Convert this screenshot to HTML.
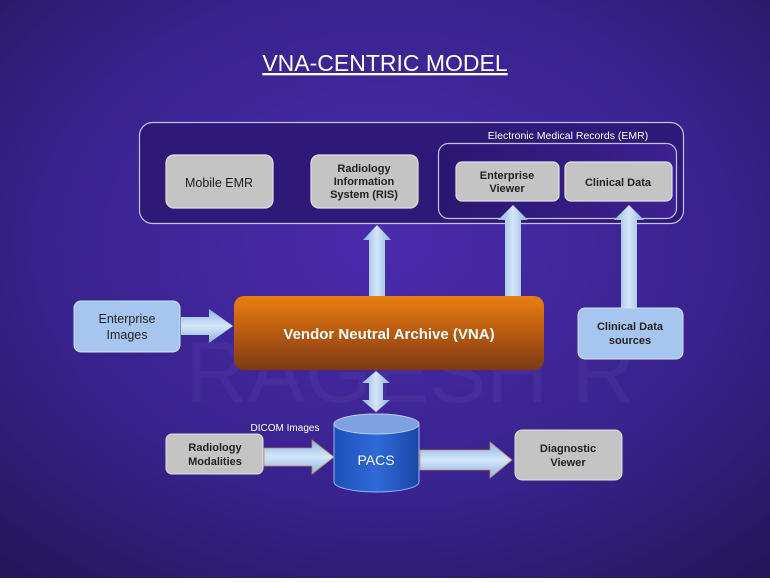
<!DOCTYPE html>
<html><head><meta charset="utf-8"><style>
html,body{margin:0;padding:0;}
body{width:770px;height:578px;overflow:hidden;}
text{font-family:"Liberation Sans",sans-serif;}
</style></head><body>
<svg width="770" height="578" viewBox="0 0 770 578" xmlns="http://www.w3.org/2000/svg">
<defs>
<radialGradient id="bg" cx="0.5" cy="0.42" r="0.75">
<stop offset="0" stop-color="#4a2cac"/>
<stop offset="0.6" stop-color="#38228c"/>
<stop offset="1" stop-color="#24165a"/>
</radialGradient>
<linearGradient id="org" x1="0" y1="0" x2="0" y2="1">
<stop offset="0" stop-color="#e8800f"/>
<stop offset="0.5" stop-color="#b85a12"/>
<stop offset="1" stop-color="#7a3a14"/>
</linearGradient>
<linearGradient id="av" x1="0" y1="0" x2="1" y2="0">
<stop offset="0" stop-color="#8cb4e4"/><stop offset="0.5" stop-color="#d4e6f8"/><stop offset="1" stop-color="#8cb4e4"/>
</linearGradient>
<linearGradient id="ah" x1="0" y1="0" x2="0" y2="1">
<stop offset="0" stop-color="#8cb4e4"/><stop offset="0.5" stop-color="#d4e6f8"/><stop offset="1" stop-color="#8cb4e4"/>
</linearGradient>
<linearGradient id="cyl" x1="0" y1="0" x2="1" y2="0">
<stop offset="0" stop-color="#1d4fb8"/><stop offset="0.5" stop-color="#2f6ad8"/><stop offset="1" stop-color="#1a46a8"/>
</linearGradient>
<linearGradient id="inner" x1="0" y1="0" x2="1" y2="0">
<stop offset="0" stop-color="#2a1670"/><stop offset="1" stop-color="#3c2190"/>
</linearGradient>
</defs>
<rect width="770" height="578" fill="url(#bg)"/>
<text x="410" y="402" font-size="86" fill="#ffffff" fill-opacity="0.04" text-anchor="middle">RAGESH R</text>
<text x="385" y="71" font-size="23" fill="#fff" text-anchor="middle" text-decoration="underline">VNA-CENTRIC MODEL</text>
<!-- outer box -->
<rect x="139.5" y="122.5" width="544" height="101" rx="13" fill="#2e1878" stroke="#c8c0f0" stroke-width="1.2"/>
<text x="568" y="139" font-size="10.5" fill="#fff" text-anchor="middle">Electronic Medical Records (EMR)</text>
<rect x="438.5" y="143.5" width="238" height="75" rx="10" fill="url(#inner)" stroke="#c8c0f0" stroke-width="1.2"/>
<g stroke="#e0e0e0" stroke-width="1.2" fill="#c4c4c4">
<rect x="166" y="155" width="107" height="53" rx="8"/>
<rect x="311" y="155" width="107" height="53" rx="8"/>
<rect x="456" y="162" width="103" height="39" rx="6"/>
<rect x="565" y="162" width="107" height="39" rx="6"/>
</g>
<g fill="#222" text-anchor="middle" font-size="11" font-weight="bold">
<text x="219" y="187" font-size="12.5" font-weight="normal">Mobile EMR</text>
<text x="364" y="172">Radiology</text><text x="364" y="185">Information</text><text x="364" y="198">System (RIS)</text>
<text x="507" y="179">Enterprise</text><text x="507" y="192">Viewer</text>
<text x="618" y="186">Clinical Data</text>
</g>
<!-- up arrows -->
<polygon points="369,296 369,240 363,240 377,225 391,240 385,240 385,296" fill="url(#av)"/>
<polygon points="505,296 505,220 498,220 513,205 528,220 521,220 521,296" fill="url(#av)"/>
<polygon points="621,308 621,220 614,220 629,205 644,220 637,220 637,308" fill="url(#av)"/>
<!-- VNA -->
<rect x="234" y="296" width="310" height="74" rx="10" fill="url(#org)"/>
<text x="389" y="339" font-size="15" font-weight="bold" fill="#fff" text-anchor="middle">Vendor Neutral Archive (VNA)</text>
<!-- Enterprise images -->
<rect x="74" y="301" width="106" height="51" rx="7" fill="#a6c6f0" stroke="#d0e0f8"/>
<text x="127" y="323" font-size="12.5" fill="#222" text-anchor="middle">Enterprise</text>
<text x="127" y="339" font-size="12.5" fill="#222" text-anchor="middle">Images</text>
<polygon points="181,317 209,317 209,309 233,326 209,343 209,335 181,335" fill="url(#ah)"/>
<!-- Clinical data sources -->
<rect x="578" y="308" width="105" height="51" rx="7" fill="#a6c6f0" stroke="#d0e0f8"/>
<text x="630" y="330" font-size="11" font-weight="bold" fill="#222" text-anchor="middle">Clinical Data</text>
<text x="630" y="344" font-size="11" font-weight="bold" fill="#222" text-anchor="middle">sources</text>
<!-- double arrow -->
<polygon points="376,371 390,383 383,383 383,400 390,400 376,412 362,400 369,400 369,383 362,383" fill="url(#av)"/>
<!-- PACS -->
<path d="M334,424 L334,482 A42.5,10 0 0 0 419,482 L419,424 Z" fill="url(#cyl)" stroke="#9ab8f0"/>
<ellipse cx="376.5" cy="424" rx="42.5" ry="10" fill="#7ea2e0" stroke="#b8cef4"/>
<text x="376" y="465" font-size="14" fill="#fff" text-anchor="middle">PACS</text>
<text x="285" y="431" font-size="10" fill="#fff" text-anchor="middle">DICOM Images</text>
<!-- radiology modalities -->
<rect x="166" y="434" width="97" height="40" rx="6" fill="#c4c4c4" stroke="#e0e0e0"/>
<text x="215" y="451" font-size="11" font-weight="bold" fill="#222" text-anchor="middle">Radiology</text>
<text x="215" y="465" font-size="11" font-weight="bold" fill="#222" text-anchor="middle">Modalities</text>
<polygon points="264,448 312,448 312,440 334,457 312,474 312,466 264,466" fill="url(#ah)" stroke="#c08a50" stroke-width="0.8"/>
<polygon points="420,450 490,450 490,442 512,460 490,478 490,470 420,470" fill="url(#ah)" stroke="#c08a50" stroke-width="0.8"/>
<!-- diagnostic viewer -->
<rect x="515" y="430" width="107" height="50" rx="7" fill="#c4c4c4" stroke="#e0e0e0"/>
<text x="568" y="452" font-size="11" font-weight="bold" fill="#222" text-anchor="middle">Diagnostic</text>
<text x="568" y="466" font-size="11" font-weight="bold" fill="#222" text-anchor="middle">Viewer</text>
</svg>
</body></html>
